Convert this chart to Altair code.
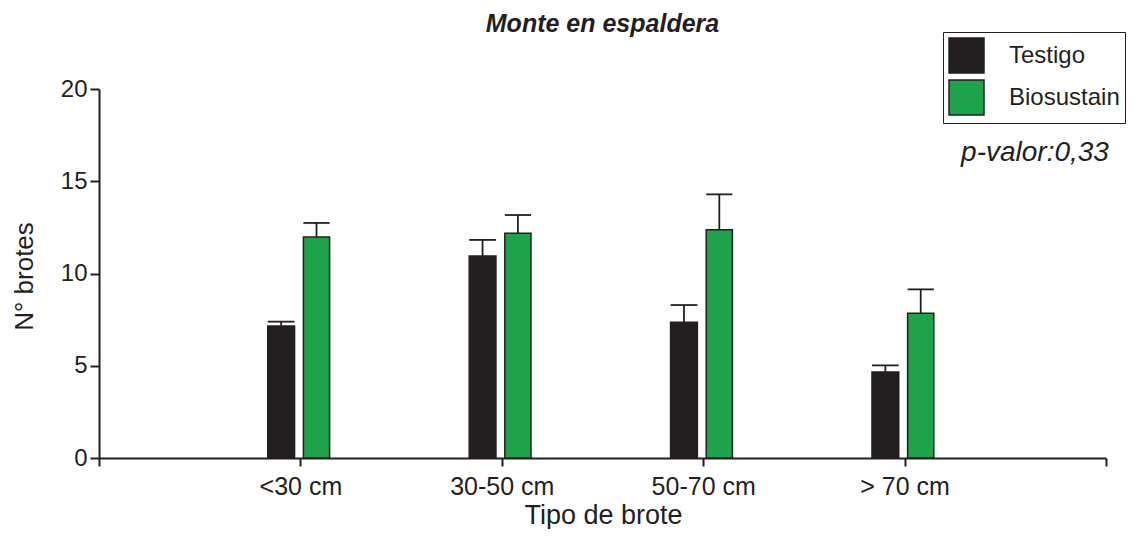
import altair as alt
import pandas as pd

# ---- data ----
categories = ["<30 cm", "30-50 cm", "50-70 cm", "> 70 cm"]
series = ["Testigo", "Biosustain"]
testigo = [7.15, 10.95, 7.36, 4.66]
testigo_err = [0.24, 0.87, 0.93, 0.36]
biosustain = [11.98, 12.18, 12.37, 7.84]
biosustain_err = [0.76, 0.99, 1.92, 1.30]
y_ticks = [0, 5, 10, 15, 20]
x_ticks = [0, 1, 2, 3, 4, 5]
colors = ["#231f20", "#1fa34a"]
p_text = "p-valor:0,33"
title_text = "Monte en espaldera"

# bar extents relative to each category position (category units)
bar_span = {"Testigo": (-0.162, -0.029), "Biosustain": (0.015, 0.145)}

rows = []
for i, cat in enumerate(categories):
    pos = i + 1
    for s, vals, errs in (("Testigo", testigo, testigo_err),
                          ("Biosustain", biosustain, biosustain_err)):
        lo, hi = bar_span[s]
        rows.append({"cat": cat, "serie": s,
                     "x0": pos + lo, "x1": pos + hi, "xc": pos + (lo + hi) / 2,
                     "v": vals[i], "top": vals[i] + errs[i], "zero": 0})
df = pd.DataFrame(rows)

ink = "#231f20"
FONT = "Liberation Sans"

label_expr = "[" + ",".join(["''"] + ["'" + c + "'" for c in categories] + ["''"]) + "][datum.value]"

x_scale = alt.Scale(domain=[0, 5], nice=False, zero=False)
y_scale = alt.Scale(domain=[0, 20], nice=False)

x_axis = alt.Axis(values=x_ticks, labelExpr=label_expr, title="Tipo de brote",
                  grid=False, tickSize=8, tickWidth=2, tickColor=ink,
                  domainColor=ink, domainWidth=2, labelPadding=8,
                  labelFont=FONT, labelFontSize=25, labelColor=ink,
                  labelFlush=False, labelOverlap=False,
                  titleFont=FONT, titleFontSize=27, titleFontWeight="normal",
                  titleColor=ink, titleX=504, titleY=65,
                  titleBaseline="alphabetic", titleAlign="center")

y_axis = alt.Axis(values=y_ticks, title="N° brotes", grid=False,
                  tickSize=9, tickWidth=2, tickColor=ink,
                  domainColor=ink, domainWidth=2, labelPadding=3,
                  labelFont=FONT, labelFontSize=24, labelColor=ink,
                  titleFont=FONT, titleFontSize=26, titleFontWeight="normal",
                  titleColor=ink, titleX=-67, titleY=187, titleAngle=270,
                  titleAlign="center", titleBaseline="alphabetic")

base = alt.Chart(df)

bars = base.mark_bar(stroke=ink, strokeWidth=1.5, opacity=1).encode(
    x=alt.X("x0:Q", scale=x_scale, axis=x_axis),
    x2="x1",
    y=alt.Y("v:Q", scale=y_scale, axis=y_axis),
    y2="zero",
    color=alt.Color(
        "serie:N",
        scale=alt.Scale(domain=series, range=colors),
        legend=alt.Legend(
            title=None, orient="none", legendX=844, legendY=-57,
            symbolType="square", symbolSize=1225,
            symbolStrokeColor=ink, symbolStrokeWidth=1.5, symbolOpacity=1,
            labelFont=FONT, labelFontSize=24, labelColor=ink,
            labelOffset=24, padding=5, rowPadding=1,
            strokeColor=ink, fillColor="white",
        ),
    ),
)

whisker = base.mark_rule(color=ink, strokeWidth=1.8).encode(
    x=alt.X("xc:Q", scale=x_scale, axis=x_axis),
    y=alt.Y("v:Q", scale=y_scale, axis=y_axis),
    y2="top",
)

cap = base.mark_rule(color=ink, strokeWidth=1.8).encode(
    x=alt.X("x0:Q", scale=x_scale, axis=x_axis),
    x2="x1",
    y=alt.Y("top:Q", scale=y_scale, axis=y_axis),
)

pval = alt.Chart(pd.DataFrame({"t": [p_text]})).mark_text(
    font=FONT, fontSize=28, fontStyle="italic", color=ink,
    align="center", baseline="alphabetic",
).encode(x=alt.value(936), y=alt.value(72), text="t:N")

title = alt.Chart(pd.DataFrame({"t": [title_text]})).mark_text(
    font=FONT, fontSize=25, fontStyle="italic", fontWeight="bold", color=ink,
    align="center", baseline="alphabetic",
).encode(x=alt.value(503.5), y=alt.value(-57), text="t:N")

chart = alt.layer(bars, whisker, cap, pval, title).properties(
    width=1007, height=369,
    autosize=alt.AutoSizeParams(type="none"),
    padding={"left": 91, "top": 81, "right": 26, "bottom": 71},
).configure_view(stroke=None)

chart.save("out.html", embed_options={"renderer": "svg", "actions": False})
